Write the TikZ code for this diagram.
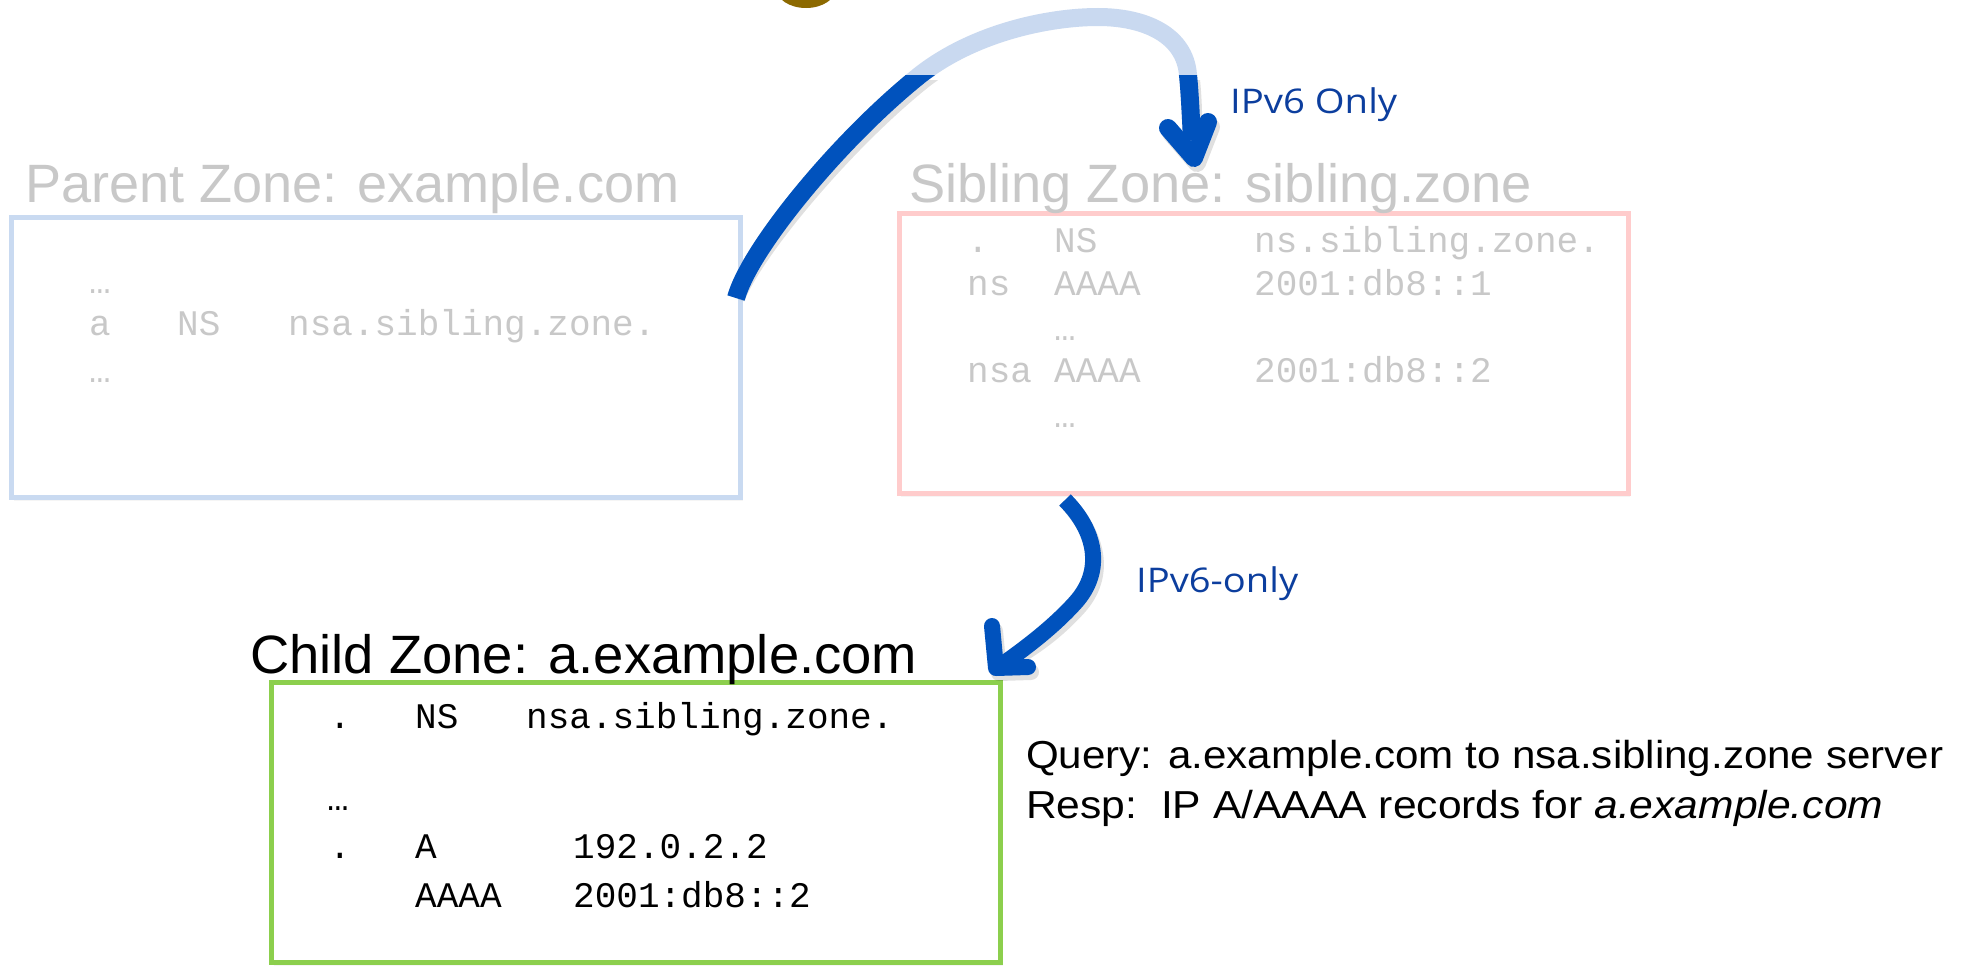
\documentclass[tikz,border=0pt]{standalone}
\usepackage{fontspec}
\setmainfont{Liberation Sans}
\setmonofont{Liberation Mono}
\newfontfamily\handfont{Open Sans}
\usetikzlibrary{shadows}
\definecolor{pblue}{RGB}{201,218,241}
\definecolor{spink}{RGB}{255,204,204}
\definecolor{cgreen}{RGB}{140,207,77}
\definecolor{ltgray}{RGB}{200,200,200}
\definecolor{arrowblue}{RGB}{0,82,189}
\definecolor{arrowlight}{RGB}{201,217,240}
\definecolor{handblue}{RGB}{12,62,158}
\definecolor{blobbrown}{RGB}{140,105,0}
\newcommand\fitto[2]{\resizebox{#1}{\height}{#2}}
\tikzset{
  zonebox/.style={rectangle, line width=5pt, fill=white, minimum width=729pt,
    minimum height=280pt, inner sep=0pt,
    drop shadow={opacity=0.08, shadow xshift=2pt, shadow yshift=-4pt}},
  rec/.style={anchor=base west, inner sep=0pt, font=\fontsize{36}{40}\selectfont\ttfamily},
  greyrec/.style={rec, text=ltgray},
  title/.style={anchor=base west, inner sep=0pt, font=\fontsize{54}{60}\selectfont},
  qtext/.style={anchor=base west, inner sep=0pt, font=\fontsize{39}{44}\selectfont},
  hand/.style={anchor=base west, inner sep=0pt, text=handblue, font=\fontsize{34}{40}\selectfont\handfont},
  bigarrow/.style={line width=18pt, arrowblue},
  midarrow/.style={line width=16pt, arrowblue},
  arrowshadow/.style={black, opacity=0.12},
}
\begin{document}
\begin{tikzpicture}[x=1pt, y=-1pt]
\useasboundingbox (0,0) rectangle (1973,969);
\fill[white] (0,0) rectangle (1973,969);

% blob at top edge
\fill[blobbrown] (806,-12) ellipse [x radius=30pt, y radius=20pt];

% zone boxes
\node[zonebox, draw=pblue] (parent) at (376,357) {};
\node[zonebox, draw=spink] (sibling) at (1263.5,353) {};
\node[zonebox, draw=cgreen] (child) at (636,822) {};

% titles
\node[title, text=ltgray] (ptitle) at (25,202) {\fitto{654pt}{Parent Zone: example.com}};
\node[title, text=ltgray] (stitle) at (909,202) {\fitto{623pt}{Sibling Zone: sibling.zone}};
\node[title] (ctitle) at (250,673) {\fitto{667pt}{Child Zone: a.example.com}};

% parent records
\node[greyrec] (p1) at (89,293) {…};
\node[greyrec] (p2a) at (89,335) {a};
\node[greyrec] (p2b) at (177,335) {NS};
\node[greyrec] (p2c) at (288,335) {nsa.sibling.zone.};
\node[greyrec] (p3) at (89,382) {…};

% sibling records
\node[greyrec] (s1a) at (967,252) {.};
\node[greyrec] (s1b) at (1054,252) {NS};
\node[greyrec] (s1c) at (1254,252) {ns.sibling.zone.};
\node[greyrec] (s2a) at (967,295) {ns};
\node[greyrec] (s2b) at (1054,295) {AAAA};
\node[greyrec] (s2c) at (1254,295) {2001:db8::1};
\node[greyrec] (s3) at (1054,340) {…};
\node[greyrec] (s4a) at (967,382) {nsa};
\node[greyrec] (s4b) at (1054,382) {AAAA};
\node[greyrec] (s4c) at (1254,382) {2001:db8::2};
\node[greyrec] (s5) at (1054,427) {…};

% child records
\node[rec] (c1a) at (329,728) {.};
\node[rec] (c1b) at (415,728) {NS};
\node[rec] (c1c) at (526,728) {nsa.sibling.zone.};
\node[rec] (c2) at (327,810) {…};
\node[rec] (c3a) at (329,858) {.};
\node[rec] (c3b) at (415,858) {A};
\node[rec] (c3c) at (573,858) {192.0.2.2};
\node[rec] (c4b) at (415,907) {AAAA};
\node[rec] (c4c) at (573,907) {2001:db8::2};

% query / response
\node[qtext] (q1) at (1026,768) {\fitto{917pt}{Query: a.example.com to nsa.sibling.zone server}};
\node[qtext] (q2) at (1026,818) {\fitto{857pt}{Resp:\ \ IP A/AAAA records for \textit{a.example.com}}};

% labels
\node[hand] (l1) at (1230,113) {\fitto{167pt}{IPv6 Only}};
\node[hand] (l2) at (1136,592) {\fitto{162pt}{IPv6-only}};

% arrow 1: parent -> sibling
\coordinate (a1s) at (736,298);
\coordinate (a1e) at (1192,140);
\def\arrowonepath{(a1s) .. controls (750,248) and (840,139) .. (920,75)
  .. controls (975,32) and (1050,17) .. (1098,17)
  .. controls (1145,17) and (1185,35) .. (1188,75)
  .. controls (1190,95) and (1191,120) .. (a1e)}
\begin{scope}[shift={(3,5)}]
  \begin{scope}
    \clip (0,75) rectangle (1973,969);
    \draw[line width=18pt, arrowshadow] \arrowonepath;
  \end{scope}
  \draw[line width=18pt, arrowshadow, line join=round, line cap=round]
    (1168,128) -- (1194,158) -- (1208,122);
\end{scope}
\draw[line width=18pt, arrowlight] \arrowonepath;
\begin{scope}
  \clip (0,75) rectangle (1973,969);
  \draw[bigarrow] \arrowonepath;
\end{scope}
\draw[bigarrow, line join=round, line cap=round]
  (1168,128) -- (1194,158) -- (1208,122);

% arrow 2: sibling -> child
\coordinate (a2s) at (1065,500);
\coordinate (a2e) at (1000,666);
\def\arrowtwopath{(a2s) .. controls (1095,530) and (1105,570) .. (1075,603)
  .. controls (1055,625) and (1030,645) .. (a2e)}
\begin{scope}[shift={(3,5)}]
  \draw[line width=16pt, arrowshadow] \arrowtwopath;
  \draw[line width=16pt, arrowshadow, line join=round, line cap=round]
    (992,626) -- (996,668) -- (1028,667);
\end{scope}
\draw[midarrow] \arrowtwopath;
\draw[midarrow, line join=round, line cap=round]
  (992,626) -- (996,668) -- (1028,667);
\end{tikzpicture}
\end{document}
